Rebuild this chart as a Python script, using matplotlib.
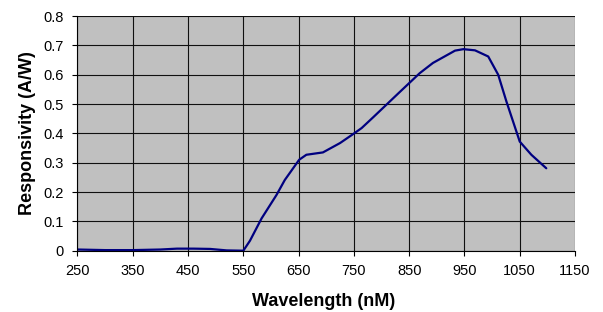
import matplotlib
matplotlib.use("Agg")
import matplotlib.pyplot as plt

wavelength = [250, 300, 350, 400, 430, 460, 490, 520, 550, 562, 583, 610, 625, 651, 664, 694,
              725, 749, 764, 785, 833, 869, 893, 933, 948, 969, 993, 1011, 1026, 1050, 1071, 1098]
responsivity = [0.004, 0.002, 0.002, 0.004, 0.007, 0.007, 0.006, 0.001, 0.0, 0.034, 0.11, 0.19,
                0.241, 0.31, 0.327, 0.335, 0.367, 0.398, 0.418, 0.455, 0.541, 0.605, 0.64,
                0.682, 0.687, 0.683, 0.662, 0.6, 0.508, 0.372, 0.327, 0.281]
xticks = [250, 350, 450, 550, 650, 750, 850, 950, 1050, 1150]
yticks = [0, 0.1, 0.2, 0.3, 0.4, 0.5, 0.6, 0.7, 0.8]
ytick_labels = ["0", "0.1", "0.2", "0.3", "0.4", "0.5", "0.6", "0.7", "0.8"]

plt.rcParams['font.family'] = ['Liberation Sans', 'DejaVu Sans']

fig = plt.figure(figsize=(6.03, 3.12), dpi=100)
ax = fig.add_axes([0.1285, 0.1965, 0.9536 - 0.1285, 0.9487 - 0.1965])
ax.set_facecolor('#C0C0C0')
ax.plot(wavelength, responsivity, color='#000080', lw=1.6, solid_capstyle='round')
ax.set_xlim(250, 1150)
ax.set_ylim(0, 0.8)
ax.set_xticks(xticks)
ax.set_yticks(yticks)
ax.set_yticklabels(ytick_labels)
ax.grid(True, color='#101010', lw=0.8)
ax.set_axisbelow(True)
for s in ['top', 'right']:
    ax.spines[s].set_visible(False)
for s in ['left', 'bottom']:
    ax.spines[s].set_color('black')
    ax.spines[s].set_linewidth(0.8)
ax.tick_params(direction='out', length=3.7, width=0.8, labelsize=10.5, color='black', pad=6)
ax.set_xlabel('Wavelength (nM)', fontsize=13, fontweight='bold')
ax.set_ylabel('Responsivity (A/W)', fontsize=13, fontweight='bold')
ax.xaxis.set_label_coords(324 / 603, 1 - 302 / 312, transform=fig.transFigure)
ax.yaxis.set_label_coords(27.5 / 603, 1 - 133 / 312, transform=fig.transFigure)
ax.xaxis.label.set_va('center')
ax.yaxis.label.set_va('center')
fig.savefig('out.png', dpi=100)
